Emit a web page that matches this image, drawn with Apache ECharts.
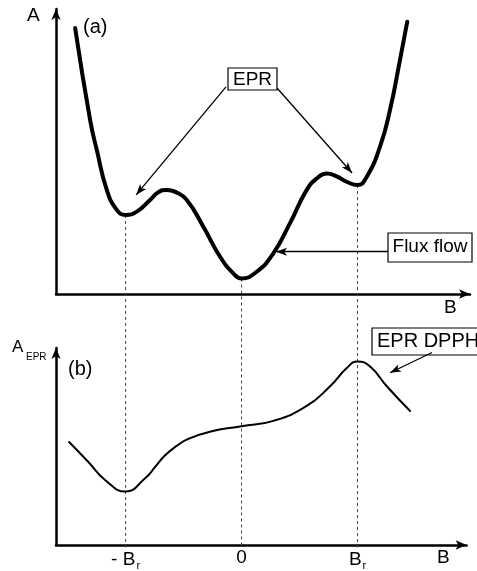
<!DOCTYPE html>
<html><head><meta charset="utf-8">
<script src="https://cdn.jsdelivr.net/npm/echarts@6/dist/echarts.min.js"></script>
<style>html,body{margin:0;padding:0;background:#fff}#c{width:477px;height:571px}</style>
</head><body><div id="c"></div>
<script>
// Panel (a): free energy A versus field B (Br units)
const aB = [-1.435, -1.306, -1.248, -1.162, -1.076, -1.0, -0.903, -0.789, -0.720, -0.645, -0.570, -0.472, -0.329, -0.185, -0.071, 0, 0.131, 0.274, 0.418, 0.562, 0.650, 0.734, 0.820, 0.910, 1.0, 1.079, 1.194, 1.280, 1.366, 1.429];
const aA = [9.43, 6.17, 5.10, 3.69, 2.98, 2.80, 2.92, 3.33, 3.60, 3.69, 3.62, 3.33, 2.38, 1.32, 0.73, 0.55, 0.79, 1.44, 2.51, 3.69, 4.10, 4.27, 4.17, 3.97, 3.86, 4.15, 5.22, 6.52, 8.29, 9.65];
// Panel (b): EPR absorption versus field B
const bB = [-1.487, -1.321, -1.177, -1.0, -0.832, -0.740, -0.659, -0.560, -0.459, -0.257, 0, 0.274, 0.562, 0.763, 0.907, 1.0, 1.108, 1.252, 1.453];
const bA = [3.66, 2.95, 2.31, 1.90, 2.37, 2.80, 3.19, 3.52, 3.77, 4.04, 4.22, 4.41, 4.94, 5.64, 6.29, 6.52, 6.34, 5.64, 4.76];
// Marker field positions (dashed guides)
const markB = [-1, 0, 1];
// Tick labels
const aTickValues = [1.80];
const aTickLabels = ['B'];
const bTickValues = [-1, 0, 1, 1.74];
const bTickLabels = ['- B{s|r}', '0', 'B{s|r}', 'B'];
// Annotation arrows (data coords): [from, to]
const eprArrows = [[[-0.134, 7.34], [-0.909, 3.51]], [[0.306, 7.30], [0.953, 4.29]]];
const fluxArrow = [[1.263, 1.50], [0.297, 1.50]];
const dpphArrow = [[1.642, 6.84], [1.280, 6.12]];

const FONT = '"Liberation Sans", Arial, sans-serif';
const chart = echarts.init(document.getElementById('c'), null, {renderer: 'canvas'});

const axisLineStyle = {show: true, onZero: false, lineStyle: {color: '#000', width: 2.5}, symbol: ['none', 'arrow'], symbolSize: [7, 11]};
const hidden = {axisTick: {show: false}, splitLine: {show: false}, axisLabel: {show: false}};
function fmt(values, labels) {
  return v => { const i = values.findIndex(t => Math.abs(t - v) < 1e-6); return i >= 0 ? labels[i] : ''; };
}
const labelBase = {color: '#000', fontSize: 19, fontFamily: FONT,
  rich: {s: {fontSize: 11, fontFamily: FONT, color: '#000', padding: [12, 0, 0, 1]}}};

function arrowLine(pairs) {
  return {
    silent: true, symbol: ['none', 'arrow'], symbolSize: [6, 11],
    lineStyle: {color: '#000', width: 1.3, type: 'solid'}, label: {show: false},
    data: pairs.map(p => [{coord: p[0]}, {coord: p[1]}])
  };
}
const aAt = m => aA[aB.indexOf(m)];

const option = {
  animation: false,
  backgroundColor: '#fff',
  grid: [
    {left: 56, top: 9, width: 414, height: 285},
    {left: 56, top: 348, width: 410.6, height: 199.5},
    {left: 56, top: 9, width: 414, height: 538.5}
  ],
  xAxis: [
    {gridIndex: 0, type: 'value', min: -1.6, max: 1.97, axisLine: axisLineStyle, axisTick: {show: false}, splitLine: {show: false},
      axisLabel: Object.assign({customValues: aTickValues, formatter: fmt(aTickValues, aTickLabels), margin: 4}, labelBase)},
    {gridIndex: 1, type: 'value', min: -1.6, max: 1.94, axisLine: axisLineStyle, axisTick: {show: false}, splitLine: {show: false},
      axisLabel: Object.assign({customValues: bTickValues, formatter: fmt(bTickValues, bTickLabels), margin: 3}, labelBase)},
    {gridIndex: 2, type: 'value', min: -1.6, max: 1.97, show: false}
  ],
  yAxis: [
    Object.assign({gridIndex: 0, type: 'value', min: 0, max: 10.1, axisLine: axisLineStyle}, hidden),
    Object.assign({gridIndex: 1, type: 'value', min: 0, max: 7, axisLine: axisLineStyle}, hidden),
    {gridIndex: 2, type: 'value', min: -8.985, max: 10.1, show: false}
  ],
  series: [
    ...markB.map(m => ({
      type: 'line', xAxisIndex: 2, yAxisIndex: 2, z: 1, silent: true, symbol: 'none',
      data: [[m, aAt(m)], [m, -8.985]],
      lineStyle: {color: '#444', width: 1, type: [3, 3]}
    })),
    {type: 'line', xAxisIndex: 0, yAxisIndex: 0, z: 5, symbol: 'none', smooth: 0.5,
      data: aB.map((b, i) => [b, aA[i]]),
      lineStyle: {color: '#000', width: 4, join: 'round', cap: 'round'},
      markLine: arrowLine(eprArrows.concat([fluxArrow]))},
    {type: 'line', xAxisIndex: 1, yAxisIndex: 1, z: 5, symbol: 'none', smooth: 0.5,
      data: bB.map((b, i) => [b, bA[i]]),
      lineStyle: {color: '#000', width: 2, join: 'round', cap: 'round'},
      markLine: arrowLine([dpphArrow])}
  ],
  graphic: [
    {type: 'text', x: 27, y: 16, style: {text: 'A', font: '19px ' + FONT, fill: '#000', textVerticalAlign: 'middle'}},
    {type: 'text', x: 83, y: 27, style: {text: '(a)', font: '20px ' + FONT, fill: '#000', textVerticalAlign: 'middle'}},
    {type: 'text', x: 12, y: 347, style: {text: 'A', font: '17px ' + FONT, fill: '#000', textVerticalAlign: 'middle'}},
    {type: 'text', x: 26, y: 357, style: {text: 'EPR', font: '10px ' + FONT, fill: '#000', textVerticalAlign: 'middle'}},
    {type: 'text', x: 68, y: 369, style: {text: '(b)', font: '20px ' + FONT, fill: '#000', textVerticalAlign: 'middle'}},
    {type: 'rect', shape: {x: 228, y: 68, width: 49, height: 22}, style: {fill: '#fff', stroke: '#000', lineWidth: 1.2}},
    {type: 'text', x: 252.5, y: 80, style: {text: 'EPR', font: '19px ' + FONT, fill: '#000', textAlign: 'center', textVerticalAlign: 'middle'}},
    {type: 'rect', shape: {x: 388, y: 233, width: 84, height: 29}, style: {fill: '#fff', stroke: '#000', lineWidth: 1.2}},
    {type: 'text', x: 430, y: 247, style: {text: 'Flux flow', font: '19px ' + FONT, fill: '#000', textAlign: 'center', textVerticalAlign: 'middle'}},
    {type: 'rect', shape: {x: 372, y: 328, width: 112, height: 27}, style: {fill: '#fff', stroke: '#000', lineWidth: 1.2}},
    {type: 'text', x: 377, y: 341, style: {text: 'EPR DPPH', font: '20px ' + FONT, fill: '#000', textVerticalAlign: 'middle'}}
  ]
};
chart.setOption(option);
</script>
</body></html>
